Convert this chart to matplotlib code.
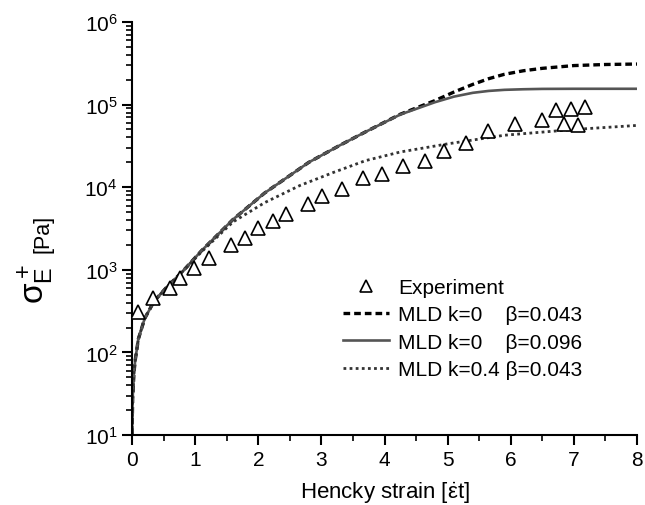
import numpy as np
import matplotlib
matplotlib.use('Agg')
import matplotlib.pyplot as plt

plt.rcParams['font.family'] = ['Liberation Sans', 'DejaVu Sans']
plt.rcParams['mathtext.fontset'] = 'custom'
plt.rcParams['mathtext.rm'] = 'Liberation Sans'
plt.rcParams['mathtext.it'] = 'Liberation Sans'
plt.rcParams['mathtext.bf'] = 'Liberation Sans:bold'

# experimental points
exp_strain = [0.10, 0.33, 0.60, 0.76, 0.98, 1.22, 1.56, 1.79, 1.99, 2.23, 2.44, 2.78,
              3.01, 3.33, 3.66, 3.96, 4.30, 4.64, 4.95, 5.29, 5.64, 6.07, 6.50,
              6.72, 6.84, 6.96, 7.07, 7.17]
exp_stress = [310, 455, 600, 790, 1050, 1390, 2000, 2460, 3200, 3850, 4800, 6300,
              7800, 9400, 13000, 14300, 17900, 20700, 27800, 34700, 48000, 58000, 65000,
              85000, 59000, 89000, 56000, 94000]

# MLD k=0, beta=0.096 (solid)
solid_strain = [0, 0.01, 0.03, 0.05, 0.1, 0.2, 0.35, 0.55, 0.8, 1.1, 1.6, 2.1, 2.8,
                3.3, 3.7, 4.25, 4.8, 5.1, 5.4, 5.65, 5.9, 6.2, 6.5, 7.0, 8.0]
solid_stress = [10, 28, 56, 80, 145, 257, 417, 617, 955, 1700, 4070, 8500, 20000,
                32400, 46800, 75900, 107000, 125000, 139000, 146500, 151000, 153500,
                155000, 155500, 155500]

# MLD k=0, beta=0.043 (dashed)
dash_strain = [0, 0.01, 0.03, 0.05, 0.1, 0.2, 0.35, 0.55, 0.8, 1.1, 1.6, 2.1, 2.8,
               3.3, 3.7, 4.25, 4.5, 4.8, 5.1, 5.4, 5.65, 5.9, 6.2, 6.5, 7.0, 7.5, 8.0]
dash_stress = [10, 28, 56, 80, 145, 257, 417, 617, 955, 1700, 4070, 8500, 20000,
               32400, 46800, 76500, 91000, 112000, 142000, 176000, 206000, 233000,
               257000, 275000, 297000, 306000, 310000]

# MLD k=0.4, beta=0.043 (dotted)
dot_strain = [0, 0.01, 0.03, 0.05, 0.1, 0.2, 0.35, 0.55, 0.8, 1.1, 1.6, 2.1, 2.66,
              3.2, 3.7, 4.25, 5.0, 5.9, 7.0, 8.0]
dot_stress = [10, 28, 56, 80, 145, 257, 417, 617, 950, 1650, 3800, 6500, 10500,
              15200, 21000, 26700, 33500, 42600, 50000, 56000]

fig = plt.figure(figsize=(6.45, 5.06), dpi=100)
ax = fig.add_axes([0.2047, 0.1383, 0.7829, 0.8162])

ax.plot(exp_strain, exp_stress, linestyle='none', marker='^', markersize=10,
        markerfacecolor='white', markeredgecolor='black', markeredgewidth=1.2,
        label='Experiment', zorder=3)
ax.plot(dash_strain, dash_stress, color='black', linewidth=2.4, dashes=(2.0, 1.2),
        label='MLD k=0    \u03b2=0.043')
ax.plot(solid_strain, solid_stress, color='#555555', linewidth=1.9,
        label='MLD k=0    \u03b2=0.096')
ax.plot(dot_strain, dot_stress, color='#333333', linewidth=2.0, dashes=(1, 1.2),
        label='MLD k=0.4 \u03b2=0.043')

ax.set_yscale('log')
ax.set_xlim(0, 8)
ax.set_ylim(10, 1e6)
ax.set_xticks(np.arange(0, 9, 1))
ax.set_xticks(np.arange(0.5, 8, 1), minor=True)

ax.spines['top'].set_visible(False)
ax.spines['right'].set_visible(False)
ax.spines['left'].set_linewidth(1.5)
ax.spines['bottom'].set_linewidth(1.5)
ax.tick_params(which='major', direction='out', length=7, width=1.5, labelsize=15)
ax.tick_params(which='minor', direction='out', length=4, width=1.2)

ax.set_xlabel(r'Hencky strain [$\dot{\varepsilon}$t]', fontsize=16, labelpad=8)

# y label: big sigma with stacked sub/superscript, then [Pa]
fig.text(0.055, 0.44, r'$\sigma_E^+$', fontsize=24, rotation=90, ha='center', va='center')
fig.text(0.066, 0.538, '[Pa]', fontsize=15.5, rotation=90, ha='center', va='center')

ax.legend(loc='upper left', bbox_to_anchor=(0.418, 0.38), frameon=False, fontsize=15,
          handlelength=2.2, handletextpad=0.45, labelspacing=0.4, borderpad=0,
          borderaxespad=0, markerscale=0.8)

fig.savefig('out.png', dpi=100)
